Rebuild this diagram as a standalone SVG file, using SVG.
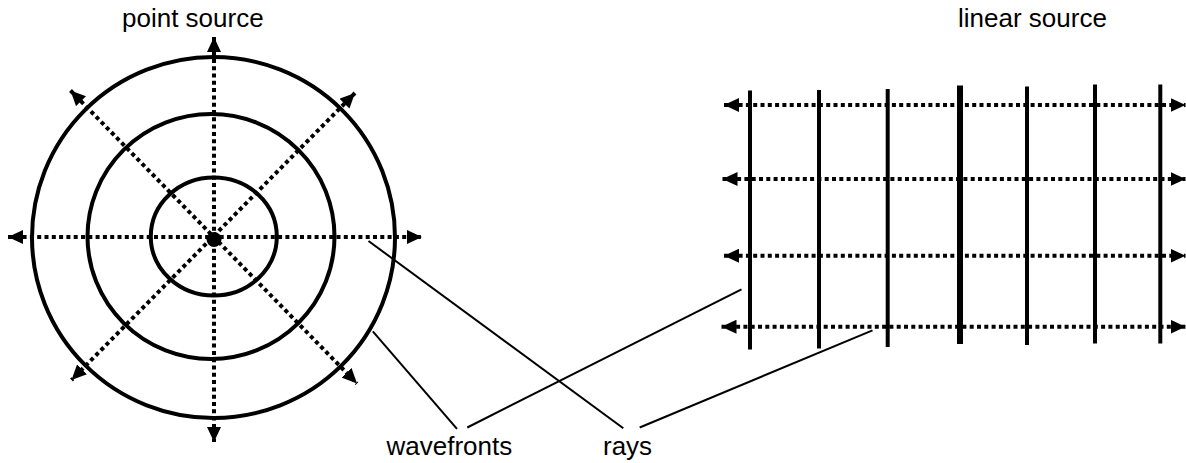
<svg xmlns="http://www.w3.org/2000/svg" width="1186" height="463" viewBox="0 0 1186 463">
<style>
.lbl{font-family:"Liberation Sans",Arial,sans-serif;font-size:26px;fill:#000}
.wave{fill:none;stroke:#000;stroke-width:4}
.ray{fill:none;stroke:#000;stroke-width:4;stroke-dasharray:4 3.3}
.lead{fill:none;stroke:#000;stroke-width:2}
</style>
<defs>
<marker id="ah" markerUnits="userSpaceOnUse" markerWidth="15" markerHeight="14" refX="15" refY="7" orient="auto-start-reverse" viewBox="0 0 15 14">
<path d="M0,0 L15,7 L0,14 z" fill="#000"/>
</marker>
</defs>
<rect width="1186" height="463" fill="#fff"/>
<g id="point-source">
<text class="lbl" x="122" y="27">point source</text>
<ellipse class="wave" cx="213.5" cy="237.5" rx="181.5" ry="180.5"/>
<ellipse class="wave" cx="211" cy="236.5" rx="123.5" ry="122.5"/>
<ellipse class="wave" cx="213.8" cy="236.5" rx="63" ry="59"/>
<line class="ray" x1="8" y1="237" x2="422" y2="237" marker-start="url(#ah)" marker-end="url(#ah)"/>
<line class="ray" x1="214" y1="37" x2="214" y2="442" marker-start="url(#ah)" marker-end="url(#ah)"/>
<line class="ray" x1="70.5" y1="90.5" x2="357" y2="383.5" marker-start="url(#ah)" marker-end="url(#ah)"/>
<line class="ray" x1="355" y1="93" x2="71.5" y2="380" marker-start="url(#ah)" marker-end="url(#ah)"/>
<circle cx="214" cy="239.5" r="7.5" fill="#000"/>
</g>
<g id="linear-source">
<text class="lbl" x="958" y="27">linear source</text>
<line class="wave" x1="750" y1="90.5" x2="750" y2="349.5"/>
<line class="wave" x1="819" y1="90" x2="819" y2="348.5"/>
<line class="wave" x1="887.7" y1="89" x2="887.7" y2="347"/>
<line class="wave" x1="960" y1="85.5" x2="960" y2="344" style="stroke-width:6"/>
<line class="wave" x1="1027" y1="86.5" x2="1027" y2="345"/>
<line class="wave" x1="1095" y1="84.5" x2="1095" y2="343.5"/>
<line class="wave" x1="1160.3" y1="84.5" x2="1160.3" y2="343.5"/>
<line class="ray" x1="724" y1="105" x2="1185.5" y2="105" marker-start="url(#ah)" marker-end="url(#ah)"/>
<line class="ray" x1="722.5" y1="179" x2="1185.5" y2="179" marker-start="url(#ah)" marker-end="url(#ah)"/>
<line class="ray" x1="724" y1="255.7" x2="1185.5" y2="255.7" marker-start="url(#ah)" marker-end="url(#ah)"/>
<line class="ray" x1="721.5" y1="326.7" x2="1185.5" y2="326.7" marker-start="url(#ah)" marker-end="url(#ah)"/>
</g>
<g id="label-wavefronts">
<text class="lbl" x="386.5" y="455">wavefronts</text>
</g>
<g id="label-rays">
<text class="lbl" x="603" y="455">rays</text>
</g>
<g id="connectors">
<line class="lead" x1="372.8" y1="331.3" x2="457" y2="428.8"/>
<line class="lead" x1="467.3" y1="427.5" x2="741.5" y2="289.3"/>
<line class="lead" x1="368.5" y1="241" x2="623.3" y2="428.3"/>
<line class="lead" x1="639.7" y1="427.5" x2="872.5" y2="330.3"/>
</g>
</svg>
